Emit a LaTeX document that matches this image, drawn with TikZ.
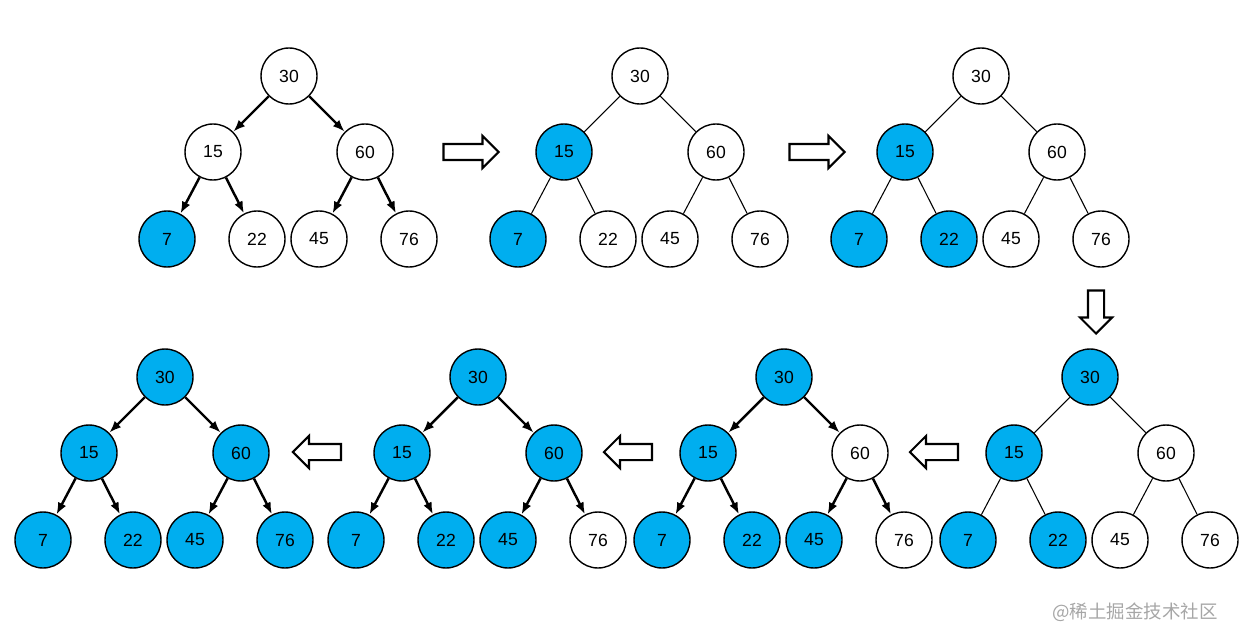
\documentclass[tikz,border=0pt]{standalone}
\usepackage{fontspec}
\setmainfont{Liberation Sans}
\newfontfamily\cjkfont{Noto Sans CJK SC}
\usetikzlibrary{arrows.meta, shapes.arrows}
\definecolor{heapblue}{RGB}{0,174,239}

\begin{document}
\begin{tikzpicture}[x=0.02cm, y=-0.02cm,
    key/.style={draw, circle, line width=0.8pt, fill=white, minimum size=1.12cm,
                inner sep=0pt, font=\fontsize{10}{12}\selectfont},
    hot/.style={key, fill=heapblue},
    link/.style={line width=0.6pt},
    move/.style={line width=1.4pt, -{Latex[length=2.4mm,width=1.8mm]}},
    bigarrow/.style={draw, single arrow, line width=1.2pt, fill=white,
                     inner sep=0.14cm,
                     single arrow head extend=0.16cm, minimum height=1.1cm}]
    \useasboundingbox (0,0) rectangle (1240,642);

    % step 1
    \begin{scope}[shift={(289,76)}]
    \node[key] (a30) at (0,0) {30};
    \node[key] (a15) at (-76,76) {15};
    \node[key] (a60) at (76,76) {60};
    \node[hot] (a7) at (-122,163) {7};
    \node[key] (a22) at (-32,163) {22};
    \node[key] (a45) at (30,163) {45};
    \node[key] (a76) at (120,163) {76};
    \foreach \u/\v in {a30/a15,a30/a60,a15/a7,a15/a22,a60/a45,a60/a76}{\draw[move] (\u)--(\v);}
    \end{scope}

    % step 2
    \begin{scope}[shift={(640,76)}]
    \node[key] (b30) at (0,0) {30};
    \node[hot] (b15) at (-76,76) {15};
    \node[key] (b60) at (76,76) {60};
    \node[hot] (b7) at (-122,163) {7};
    \node[key] (b22) at (-32,163) {22};
    \node[key] (b45) at (30,163) {45};
    \node[key] (b76) at (120,163) {76};
    \foreach \u/\v in {b30/b15,b30/b60,b15/b7,b15/b22,b60/b45,b60/b76}{\draw[link] (\u)--(\v);}
    \end{scope}

    % step 3
    \begin{scope}[shift={(981,76)}]
    \node[key] (c30) at (0,0) {30};
    \node[hot] (c15) at (-76,76) {15};
    \node[key] (c60) at (76,76) {60};
    \node[hot] (c7) at (-122,163) {7};
    \node[hot] (c22) at (-32,163) {22};
    \node[key] (c45) at (30,163) {45};
    \node[key] (c76) at (120,163) {76};
    \foreach \u/\v in {c30/c15,c30/c60,c15/c7,c15/c22,c60/c45,c60/c76}{\draw[link] (\u)--(\v);}
    \end{scope}

    % step 4
    \begin{scope}[shift={(1090,377)}]
    \node[hot] (d30) at (0,0) {30};
    \node[hot] (d15) at (-76,76) {15};
    \node[key] (d60) at (76,76) {60};
    \node[hot] (d7) at (-122,163) {7};
    \node[hot] (d22) at (-32,163) {22};
    \node[key] (d45) at (30,163) {45};
    \node[key] (d76) at (120,163) {76};
    \foreach \u/\v in {d30/d15,d30/d60,d15/d7,d15/d22,d60/d45,d60/d76}{\draw[link] (\u)--(\v);}
    \end{scope}

    % step 5
    \begin{scope}[shift={(784,377)}]
    \node[hot] (e30) at (0,0) {30};
    \node[hot] (e15) at (-76,76) {15};
    \node[key] (e60) at (76,76) {60};
    \node[hot] (e7) at (-122,163) {7};
    \node[hot] (e22) at (-32,163) {22};
    \node[hot] (e45) at (30,163) {45};
    \node[key] (e76) at (120,163) {76};
    \foreach \u/\v in {e30/e15,e30/e60,e15/e7,e15/e22,e60/e45,e60/e76}{\draw[move] (\u)--(\v);}
    \end{scope}

    % step 6
    \begin{scope}[shift={(478,377)}]
    \node[hot] (f30) at (0,0) {30};
    \node[hot] (f15) at (-76,76) {15};
    \node[hot] (f60) at (76,76) {60};
    \node[hot] (f7) at (-122,163) {7};
    \node[hot] (f22) at (-32,163) {22};
    \node[hot] (f45) at (30,163) {45};
    \node[key] (f76) at (120,163) {76};
    \foreach \u/\v in {f30/f15,f30/f60,f15/f7,f15/f22,f60/f45,f60/f76}{\draw[move] (\u)--(\v);}
    \end{scope}

    % step 7
    \begin{scope}[shift={(165,377)}]
    \node[hot] (g30) at (0,0) {30};
    \node[hot] (g15) at (-76,76) {15};
    \node[hot] (g60) at (76,76) {60};
    \node[hot] (g7) at (-122,163) {7};
    \node[hot] (g22) at (-32,163) {22};
    \node[hot] (g45) at (30,163) {45};
    \node[hot] (g76) at (120,163) {76};
    \foreach \u/\v in {g30/g15,g30/g60,g15/g7,g15/g22,g60/g45,g60/g76}{\draw[move] (\u)--(\v);}
    \end{scope}

    % arrows between the steps
    \node[bigarrow] (s12) at (467,152) {};
    \node[bigarrow] (s23) at (813,152) {};
    \node[bigarrow, shape border rotate=270, minimum height=0.86cm] (s34) at (1096,308) {};
    \node[bigarrow, shape border rotate=180, minimum height=0.96cm] (s45) at (938,452) {};
    \node[bigarrow, shape border rotate=180, minimum height=0.96cm] (s56) at (632,452) {};
    \node[bigarrow, shape border rotate=180, minimum height=0.96cm] (s67) at (321,452) {};

    \node[text=gray!70, font=\cjkfont\fontsize{10.5}{12}\selectfont] (mark) at (1135,612) {@稀土掘金技术社区};
\end{tikzpicture}
\end{document}
